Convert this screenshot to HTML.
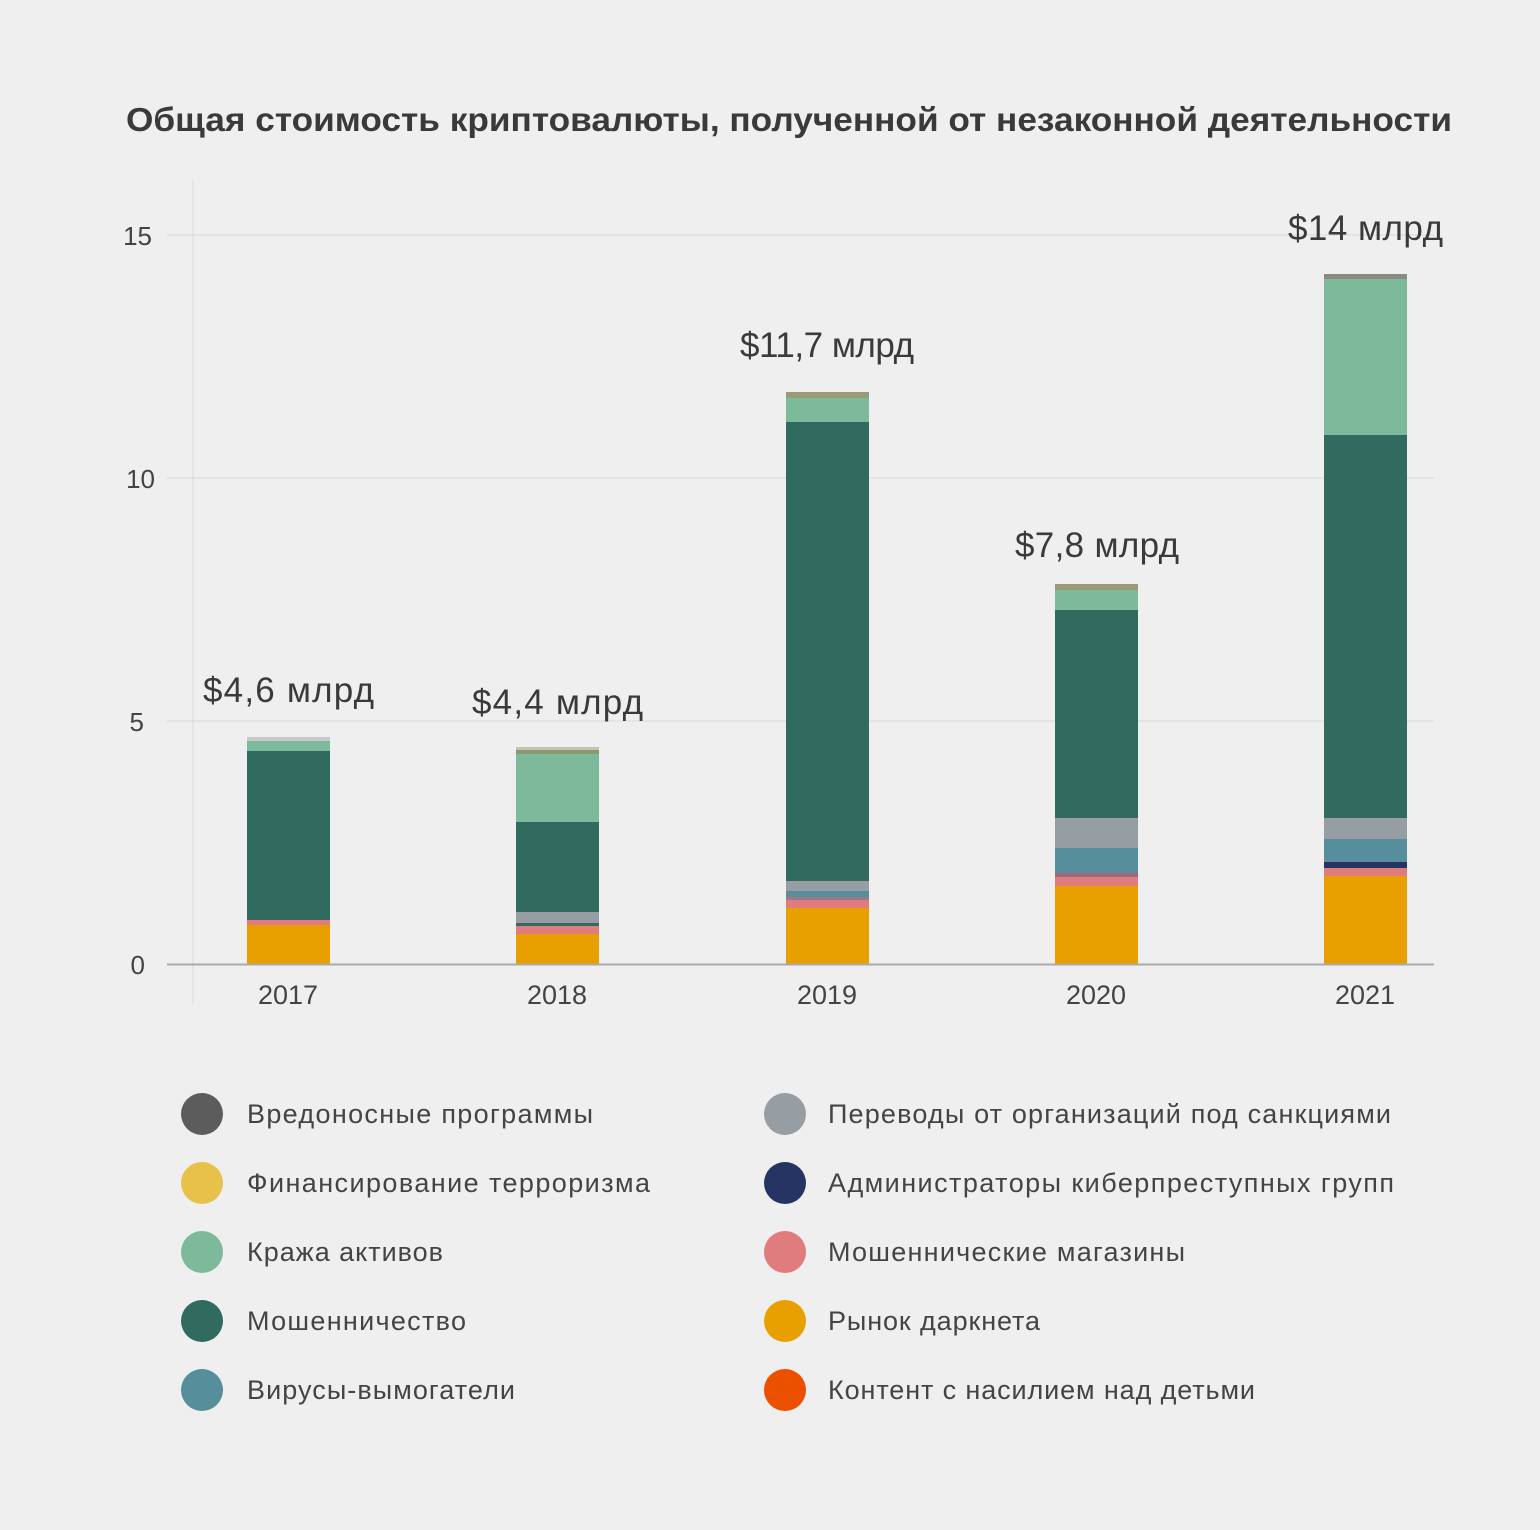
<!DOCTYPE html><html><head><meta charset="utf-8"><style>body{margin:0;background:#efefef;}svg{display:block}text{font-family:"Liberation Sans",sans-serif}</style></head><body>
<svg width="1540" height="1530" viewBox="0 0 1540 1530">
<rect width="1540" height="1530" fill="#efefef"/>
<text x="126" y="131" font-size="33" font-weight="bold" fill="#3a3a3a" textLength="1326" lengthAdjust="spacingAndGlyphs">Общая стоимость криптовалюты, полученной от незаконной деятельности</text>
<line x1="193" y1="180" x2="193" y2="1004" stroke="#d8d8d8"/>
<g stroke="#d8d8d8"><line x1="167" y1="235" x2="1434" y2="235"/><line x1="167" y1="478" x2="1434" y2="478"/><line x1="167" y1="721" x2="1434" y2="721"/></g>
<g font-size="26" fill="#444" text-anchor="end"><text x="152" y="245">15</text><text x="155" y="488">10</text><text x="144" y="731">5</text><text x="145" y="974">0</text></g>
<g>
<rect x="247" y="737" width="83" height="4" fill="#c9c9c9"/><rect x="247" y="741" width="83" height="10" fill="#7DBA9B"/><rect x="247" y="751" width="83" height="169" fill="#316B5F"/><rect x="247" y="920" width="83" height="5" fill="#E07B7E"/><rect x="247" y="925" width="83" height="39" fill="#E8A000"/>
<rect x="516" y="747" width="83" height="3" fill="#c9c2b0"/><rect x="516" y="750" width="83" height="4" fill="#8a9a70"/><rect x="516" y="754" width="83" height="68" fill="#7DBA9B"/><rect x="516" y="822" width="83" height="90" fill="#316B5F"/><rect x="516" y="912" width="83" height="11" fill="#979EA3"/><rect x="516" y="923" width="83" height="3" fill="#316B5F"/><rect x="516" y="926" width="83" height="8" fill="#E07B7E"/><rect x="516" y="934" width="83" height="30" fill="#E8A000"/>
<rect x="786" y="392" width="83" height="6" fill="#9a9a78"/><rect x="786" y="398" width="83" height="24" fill="#7DBA9B"/><rect x="786" y="422" width="83" height="459" fill="#316B5F"/><rect x="786" y="881" width="83" height="10" fill="#979EA3"/><rect x="786" y="891" width="83" height="6" fill="#568F9B"/><rect x="786" y="897" width="83" height="3" fill="#9a7a85"/><rect x="786" y="900" width="83" height="8" fill="#E07B7E"/><rect x="786" y="908" width="83" height="56" fill="#E8A000"/>
<rect x="1055" y="584" width="83" height="6" fill="#9a9a78"/><rect x="1055" y="590" width="83" height="20" fill="#7DBA9B"/><rect x="1055" y="610" width="83" height="208" fill="#316B5F"/><rect x="1055" y="818" width="83" height="30" fill="#979EA3"/><rect x="1055" y="848" width="83" height="25" fill="#568F9B"/><rect x="1055" y="873" width="83" height="4" fill="#9a6a7a"/><rect x="1055" y="877" width="83" height="9" fill="#E07B7E"/><rect x="1055" y="886" width="83" height="78" fill="#E8A000"/>
<rect x="1324" y="274" width="83" height="5" fill="#8a8a80"/><rect x="1324" y="279" width="83" height="156" fill="#7DBA9B"/><rect x="1324" y="435" width="83" height="383" fill="#316B5F"/><rect x="1324" y="818" width="83" height="21" fill="#979EA3"/><rect x="1324" y="839" width="83" height="23" fill="#568F9B"/><rect x="1324" y="862" width="83" height="6" fill="#263464"/><rect x="1324" y="868" width="83" height="8" fill="#E07B7E"/><rect x="1324" y="876" width="83" height="88" fill="#E8A000"/>
</g>
<line x1="167" y1="964.5" x2="1434" y2="964.5" stroke="#aaa" stroke-width="2"/>
<g font-size="27" fill="#444" text-anchor="middle"><text x="288" y="1004">2017</text><text x="557" y="1004">2018</text><text x="827" y="1004">2019</text><text x="1096" y="1004">2020</text><text x="1365" y="1004">2021</text></g>
<g font-size="35" fill="#3a3a3a" lengthAdjust="spacingAndGlyphs"><text x="203" y="702" textLength="171">$4,6 млрд</text><text x="472" y="714" textLength="171">$4,4 млрд</text><text x="740" y="357" textLength="174">$11,7 млрд</text><text x="1015" y="557" textLength="164">$7,8 млрд</text><text x="1288" y="240" textLength="155">$14 млрд</text></g>
<g font-size="27" fill="#444">
<circle cx="202" cy="1114" r="21" fill="#5c5c5c"/><text x="247" y="1123" textLength="346">Вредоносные программы</text>
<circle cx="202" cy="1183" r="21" fill="#E8C14A"/><text x="247" y="1192" textLength="403">Финансирование терроризма</text>
<circle cx="202" cy="1252" r="21" fill="#7DBA9B"/><text x="247" y="1261" textLength="196">Кража активов</text>
<circle cx="202" cy="1321" r="21" fill="#316B5F"/><text x="247" y="1330" textLength="219">Мошенничество</text>
<circle cx="202" cy="1390" r="21" fill="#568F9B"/><text x="247" y="1399" textLength="268">Вирусы-вымогатели</text>
<circle cx="785" cy="1114" r="21" fill="#979EA3"/><text x="828" y="1123" textLength="563">Переводы от организаций под санкциями</text>
<circle cx="785" cy="1183" r="21" fill="#263464"/><text x="828" y="1192" textLength="566">Администраторы киберпреступных групп</text>
<circle cx="785" cy="1252" r="21" fill="#E07B7E"/><text x="828" y="1261" textLength="357">Мошеннические магазины</text>
<circle cx="785" cy="1321" r="21" fill="#E8A000"/><text x="828" y="1330" textLength="212">Рынок даркнета</text>
<circle cx="785" cy="1390" r="21" fill="#EB5000"/><text x="828" y="1399" textLength="427">Контент с насилием над детьми</text>
</g>
</svg></body></html>
